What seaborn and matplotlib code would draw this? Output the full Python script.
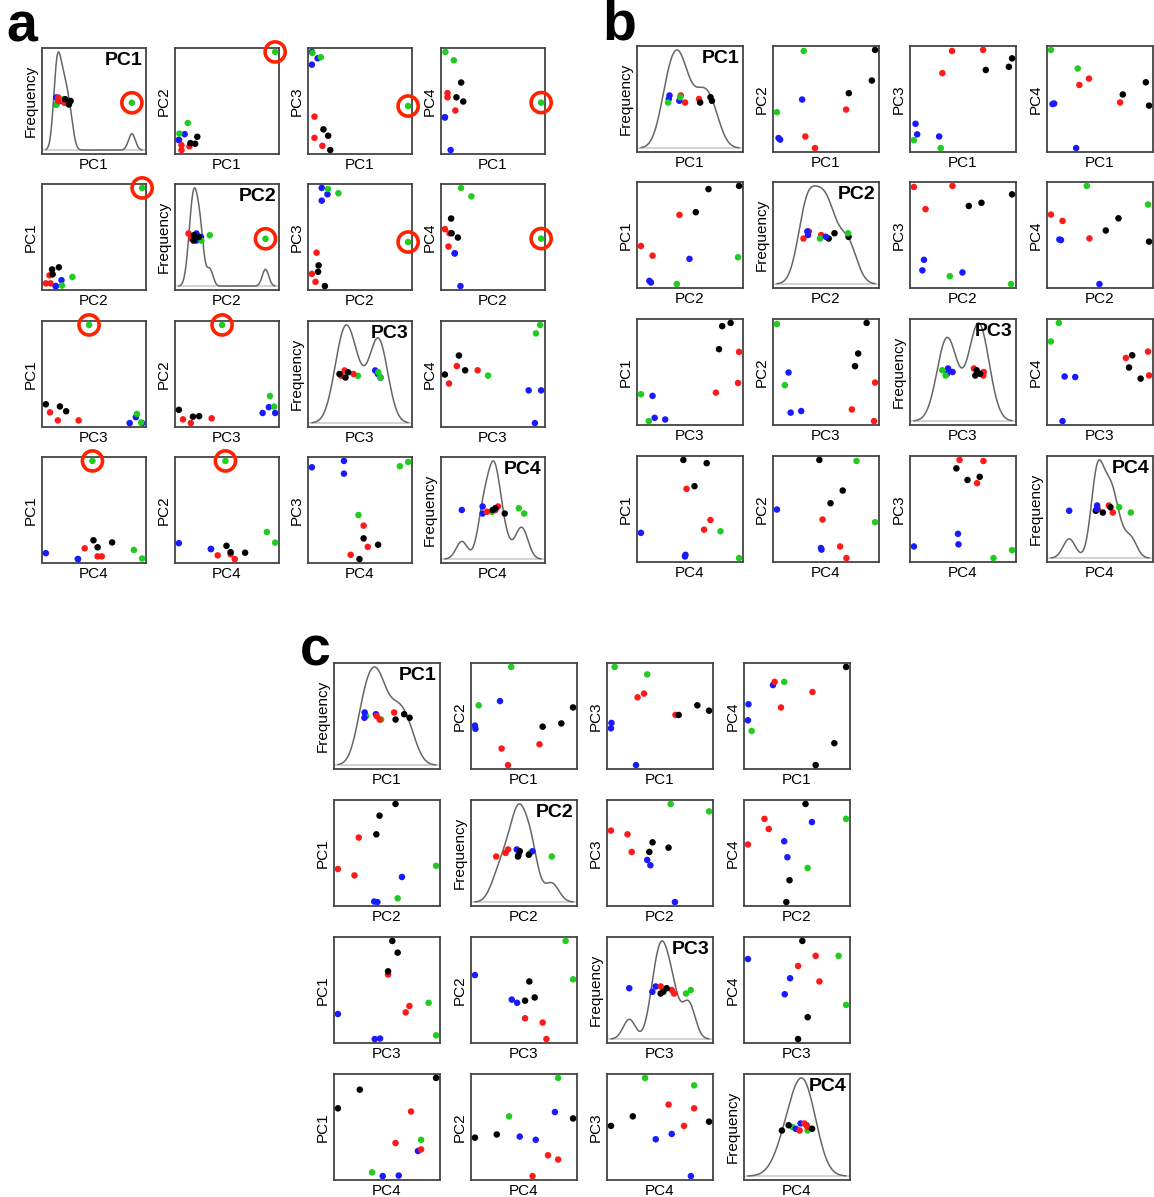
import numpy as np
import matplotlib
matplotlib.use("Agg")
import matplotlib.pyplot as plt
import seaborn as sns

sns.set_style("white")
plt.rcParams["font.family"] = ["Liberation Sans", "DejaVu Sans"]
plt.rcParams["text.color"] = "black"
plt.rcParams["axes.labelcolor"] = "black"

pcs = ["PC1", "PC2", "PC3", "PC4"]

# ---- panel a (sample 3 = circled outlier)
a_group = ["blue", "blue", "blue", "green", "green", "green", "red", "red", "red", "black", "black", "black"]
a_pc1 = [0.045, 0.10, 0.045, 0.96, 0.13, 0.05, 0.07, 0.07, 0.145, 0.155, 0.20, 0.22]
a_pc2 = [0.14, 0.195, 0.14, 0.97, 0.30, 0.20, 0.09, 0.045, 0.08, 0.11, 0.105, 0.17]
a_pc3 = [0.97, 0.91, 0.85, 0.46, 0.92, 0.96, 0.36, 0.16, 0.085, 0.24, 0.18, 0.045]
a_pc4 = [0.35, 0.04, 0.35, 0.49, 0.89, 0.97, 0.54, 0.58, 0.415, 0.54, 0.68, 0.50]
a_outlier = 3

# ---- panel b
b_group = ["red", "red", "red", "black", "black", "black", "blue", "blue", "blue", "green", "green"]
b_pc1 = [0.40, 0.69, 0.31, 0.96, 0.93, 0.715, 0.06, 0.075, 0.28, 0.295, 0.045]
b_pc2 = [0.04, 0.405, 0.15, 0.97, 0.68, 0.56, 0.135, 0.12, 0.50, 0.96, 0.38]
b_pc3 = [0.96, 0.97, 0.75, 0.89, 0.81, 0.78, 0.27, 0.17, 0.15, 0.04, 0.115]
b_pc4 = [0.695, 0.47, 0.635, 0.44, 0.66, 0.545, 0.455, 0.46, 0.04, 0.79, 0.965]

# ---- panel c
c_group = ["green", "green", "blue", "blue", "blue", "red", "red", "red", "black", "black", "black"]
c_pc1 = [0.38, 0.075, 0.045, 0.04, 0.275, 0.35, 0.29, 0.645, 0.96, 0.85, 0.675]
c_pc2 = [0.96, 0.60, 0.38, 0.41, 0.64, 0.04, 0.195, 0.235, 0.58, 0.43, 0.40]
c_pc3 = [0.89, 0.96, 0.435, 0.385, 0.04, 0.71, 0.675, 0.51, 0.55, 0.60, 0.51]
c_pc4 = [0.82, 0.36, 0.61, 0.46, 0.79, 0.58, 0.82, 0.725, 0.96, 0.245, 0.04]

pal = {"red": "#ff1a1a", "black": "#000000", "blue": "#1a1aff", "green": "#1fcc1f"}

W, H = 1154, 1197
fig = plt.figure(figsize=(W / 100, H / 100), dpi=100)


def px_axes(left, top, w, h):
    return fig.add_axes([left / W, 1 - (top + h) / H, w / W, h / H])


def nrd0(x):
    # R's default density bandwidth
    x = np.asarray(x)
    q75, q25 = np.percentile(x, [75, 25])
    lo = min(x.std(ddof=1), (q75 - q25) / 1.34)
    return 0.9 * lo * len(x) ** -0.2


def style(ax, xlab, ylab):
    ax.set_xticks([])
    ax.set_yticks([])
    for sp in ax.spines.values():
        sp.set_color("#444444")
        sp.set_linewidth(1.3)
    ax.set_xlabel(xlab, fontsize=11, labelpad=3)
    ax.set_ylabel(ylab, fontsize=11, labelpad=3)


def pad_lim(v):
    lo, hi = min(v), max(v)
    r = hi - lo
    return lo - 0.04 * r, hi + 0.04 * r


def matrix(data, group, lefts, tops, w, h, outlier=None, bw_adj=(1, 1, 1, 1)):
    n = len(group)
    jit = [((k * 7) % 5 - 2) * 0.018 for k in range(n)]
    for i in range(4):
        for j in range(4):
            ax = px_axes(lefts[j], tops[i], w, h)
            xv = data[i]
            circled = outlier is not None and (i < 2 or j < 2)
            if i == j:
                bw = nrd0(xv)
                sns.kdeplot(x=xv, ax=ax, bw_method=bw / np.std(xv, ddof=1), bw_adjust=bw_adj[i],
                            cut=3, color="#666666", lw=1.1)
                line = ax.lines[-1]
                xs, ys = line.get_xdata(), line.get_ydata()
                x0, x1, ym = xs.min(), xs.max(), ys.max()
                ax.set_xlim(x0 - 0.04 * (x1 - x0), x1 + 0.04 * (x1 - x0))
                ax.set_ylim(-0.04 * ym, 1.04 * ym)
                ax.axhline(0, color="#cccccc", lw=1.2, zorder=1)
                yv = [ym * (0.5 + jt) for jt in jit]
                sns.scatterplot(x=xv, y=yv, hue=group, palette=pal, s=22, linewidth=0,
                                legend=False, ax=ax, zorder=3)
                ax.text(0.97, 0.96, pcs[i], transform=ax.transAxes, ha="right", va="top",
                        fontsize=14, fontweight="bold")
                style(ax, pcs[i], "Frequency")
                if circled:
                    ax.scatter([xv[outlier]], [yv[outlier]], s=210, facecolors="none",
                               edgecolors="#ff2200", linewidths=2.6, zorder=4, clip_on=False)
            else:
                yvv = data[j]
                sns.scatterplot(x=xv, y=yvv, hue=group, palette=pal, s=22, linewidth=0,
                                legend=False, ax=ax, zorder=3)
                ax.set_xlim(*pad_lim(xv))
                ax.set_ylim(*pad_lim(yvv))
                style(ax, pcs[i], pcs[j])
                if circled:
                    ax.scatter([xv[outlier]], [yvv[outlier]], s=210, facecolors="none",
                               edgecolors="#ff2200", linewidths=2.6, zorder=4, clip_on=False)


matrix([a_pc1, a_pc2, a_pc3, a_pc4], a_group,
       [42, 175, 308, 441], [48, 184, 321, 457], 104, 106, outlier=a_outlier)
matrix([b_pc1, b_pc2, b_pc3, b_pc4], b_group,
       [637, 773, 910, 1047], [46, 182, 319, 456], 106, 106)
matrix([c_pc1, c_pc2, c_pc3, c_pc4], c_group,
       [334, 471, 607, 744], [663, 800, 937, 1074], 106, 106, bw_adj=(1, 1, 1, 2.2))

for lab, x, y in [("a", 6, 2), ("b", 602, 0), ("c", 300, 625)]:
    fig.text(x / W, 1 - y / H, lab, fontsize=40, fontweight="bold", ha="left", va="top")

fig.savefig("out.png", dpi=100, facecolor="white")
